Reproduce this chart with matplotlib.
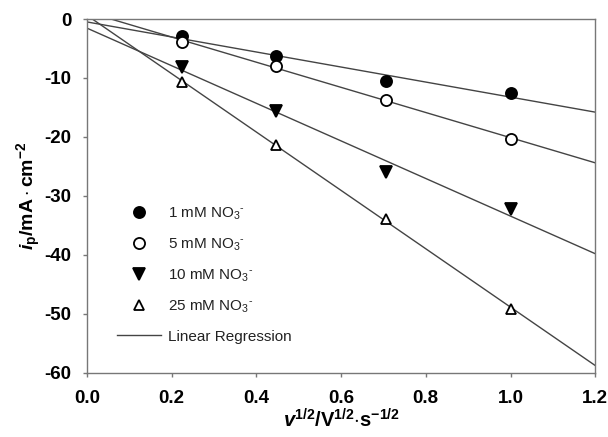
import numpy as np
import matplotlib
matplotlib.use("Agg")
import matplotlib.pyplot as plt
from matplotlib.lines import Line2D

plt.rcParams['font.family'] = ['Liberation Sans', 'DejaVu Sans']
plt.rcParams['mathtext.fontset'] = 'custom'
plt.rcParams['mathtext.rm'] = 'Liberation Sans'
plt.rcParams['mathtext.it'] = 'Liberation Sans:italic'
plt.rcParams['mathtext.bf'] = 'Liberation Sans:bold'
plt.rcParams['mathtext.bfit'] = 'Liberation Sans:bold:italic'

# data
x = [0.2236, 0.4472, 0.7071, 1.0]
series_labels = ['1 mM NO$_3$$^{\\mathrm{\u2010}}$', '5 mM NO$_3$$^{\\mathrm{\u2010}}$',
                 '10 mM NO$_3$$^{\\mathrm{\u2010}}$', '25 mM NO$_3$$^{\\mathrm{\u2010}}$']
y_1mM = [-2.9, -6.3, -10.5, -12.6]
y_5mM = [-3.9, -7.9, -13.8, -20.3]
y_10mM = [-8.1, -15.6, -26.0, -32.3]
y_25mM = [-10.7, -21.4, -33.9, -49.2]
xticks = [0.0, 0.2, 0.4, 0.6, 0.8, 1.0, 1.2]
yticks = [0, -10, -20, -30, -40, -50, -60]

series = [y_1mM, y_5mM, y_10mM, y_25mM]
markers = [dict(marker='o', mfc='black', mec='black'),
           dict(marker='o', mfc='white', mec='black'),
           dict(marker='v', mfc='black', mec='black'),
           dict(marker='^', mfc='white', mec='black')]
msizes = [8, 8, 8.5, 7.5]

fig = plt.figure(figsize=(6.08, 4.37), dpi=100)
ax = fig.add_axes([0.143, 0.147, 0.836, 0.8095])

line_color = '#444444'
xfit = np.array([0.0, 1.2])
for ys in series:
    k, b = np.polyfit(x, ys, 1)
    ax.plot(xfit, k * xfit + b, color=line_color, lw=1.0, zorder=2)

handles = []
for ys, lab, mk, ms in zip(series, series_labels, markers, msizes):
    h, = ax.plot(x, ys, linestyle='none', markersize=ms, markeredgewidth=1.3,
                 label=lab, zorder=3, **mk)
    handles.append(h)
handles.append(Line2D([], [], color=line_color, lw=1.0, label='Linear Regression'))

ax.set_xlim(0, 1.2)
ax.set_ylim(-60, 0)
ax.set_xticks(xticks)
ax.set_xticklabels([f'{t:.1f}' for t in xticks])
ax.set_yticks(yticks)
ax.set_yticklabels([str(t) for t in yticks])

for s in ax.spines.values():
    s.set_color('#777777')
    s.set_linewidth(1.0)
ax.tick_params(axis='both', direction='out', length=3, width=1.0, color='#777777',
               labelsize=13.5, pad=8)
ax.tick_params(axis='x', pad=9.5)
for lbl in ax.get_xticklabels() + ax.get_yticklabels():
    lbl.set_fontweight('bold')

ax.set_xlabel(r'$\mathbfit{v}^{\mathbf{1/2}}\mathbf{/V}^{\mathbf{1/2}}\mathbf{\cdot s}^{\mathbf{-1/2}}$',
              fontsize=14.5, labelpad=0.5)
ax.set_ylabel(r'$\mathbfit{i}_{\mathbf{p}}\mathbf{/mA\cdot cm}^{\mathbf{-2}}$',
              fontsize=14, labelpad=1)

leg = ax.legend(handles=handles, loc='lower left', bbox_to_anchor=(0.035, 0.048),
                frameon=False, fontsize=11, handlelength=2.9, handletextpad=0.45,
                labelspacing=0.96, borderpad=0.3)
for t in leg.get_texts():
    t.set_color('#222222')

fig.savefig('out.png', dpi=100)
